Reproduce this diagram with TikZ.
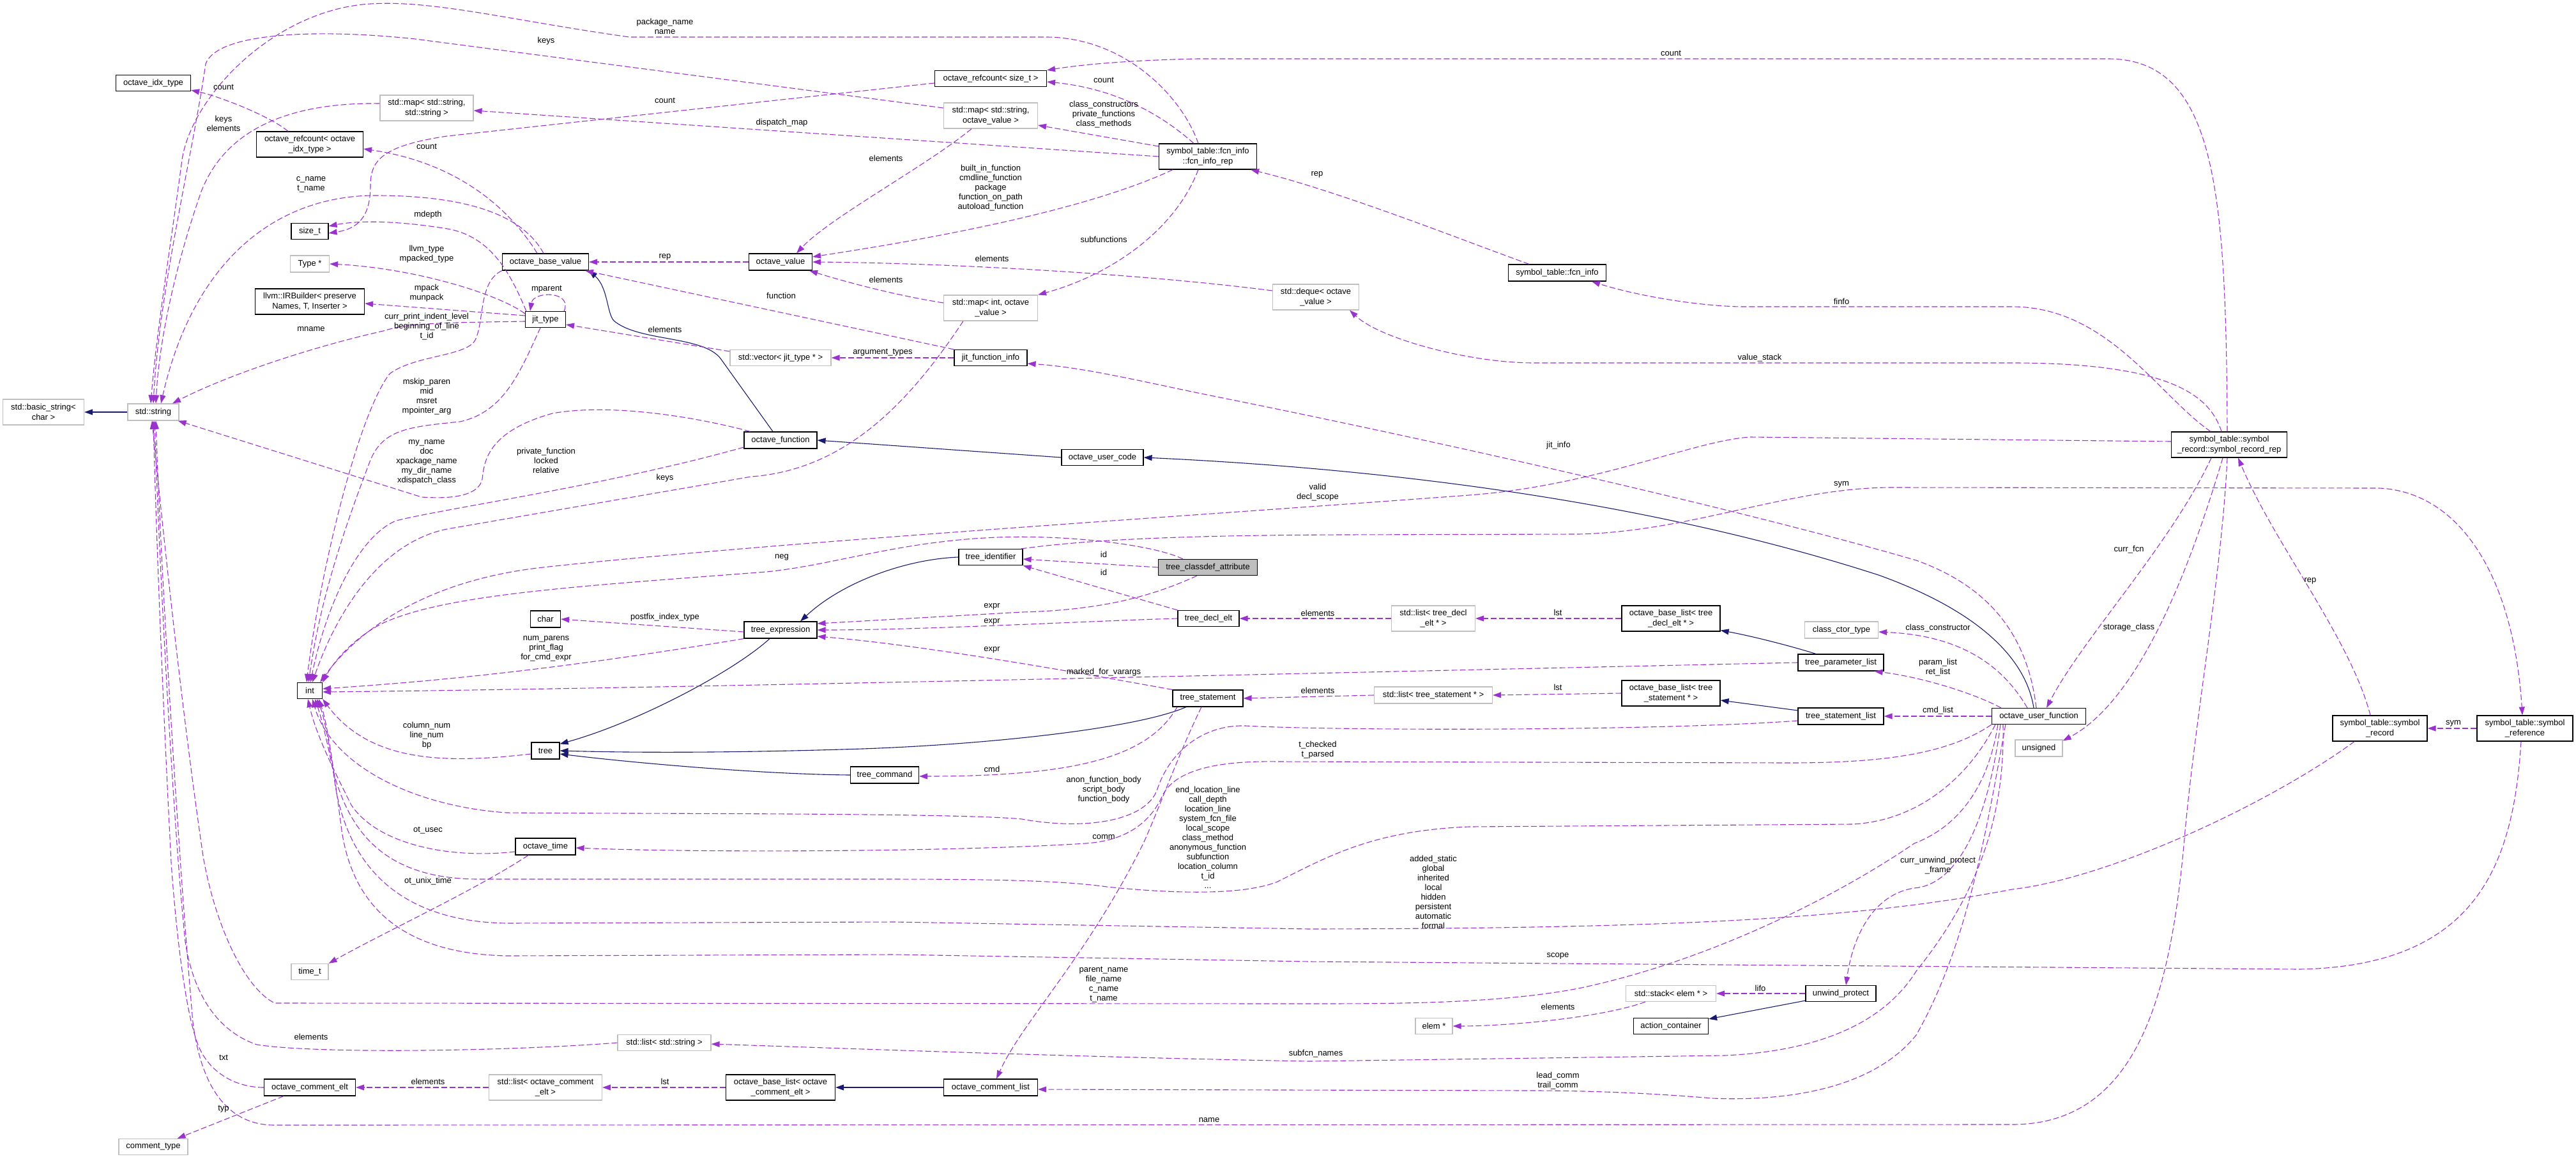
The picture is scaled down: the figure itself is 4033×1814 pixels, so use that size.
\documentclass[tikz,border=0pt]{standalone}
\usepackage{fontspec}
\setmainfont{Liberation Sans}
\usepackage{tikz}
\usetikzlibrary{arrows.meta}
\definecolor{UsePurple}{HTML}{9A32CD}
\definecolor{InhBlue}{HTML}{191970}
\definecolor{ExtGray}{HTML}{BFBFBF}
\tikzset{
  sz/.style 2 args={minimum width=#1pt, minimum height=#2pt},
  cls/.style={rectangle, line width=1.2pt, inner sep=1pt, align=center, font=\fontsize{13}{16}\selectfont},
  docbox/.style={cls, draw=black, fill=white},
  extbox/.style={cls, draw=ExtGray, fill=white},
  focusbox/.style={cls, draw=black, fill=ExtGray},
  usearr/.style={draw=UsePurple, line width=1.1pt, dash pattern=on 9pt off 4pt, -{Triangle[length=13pt,width=9pt]}},
  inharr/.style={draw=InhBlue, line width=1.1pt, -{Triangle[length=13pt,width=9pt]}},
  elabel/.style={font=\fontsize{13}{15}\selectfont, align=center, inner sep=0pt},
}

\begin{document}
\begin{tikzpicture}[x=1pt, y=-1pt]
  \useasboundingbox (0,0) rectangle (4033,1814);
  % classes
  \node[docbox, sz={117}{25}] (idxtype) at (240,130) {octave\_idx\_type};
  \node[docbox, sz={167}{40}] (rcidx) at (485,226) {octave\_refcount< octave\\\_idx\_type >};
  \node[extbox, sz={146}{40}] (mapss) at (668,169) {std::map< std::string,\\std::string >};
  \node[docbox, sz={58}{25}] (sizet) at (485,362) {size\_t};
  \node[extbox, sz={61}{26}] (typeptr) at (485,413) {Type *};
  \node[docbox, sz={171}{40}] (irb) at (485,472) {llvm::IRBuilder< preserve\\Names, T, Inserter >};
  \node[extbox, sz={80}{26}] (stdstr) at (240,645) {std::string};
  \node[extbox, sz={127}{40}] (bstr) at (68,645) {std::basic\_string<\\char >};
  \node[docbox, sz={39}{25}] (int) at (485,1081) {int};
  \node[extbox, sz={58}{25}] (timet) at (485,1521) {time\_t};
  \node[docbox, sz={143}{26}] (celt) at (485,1702) {octave\_comment\_elt};
  \node[extbox, sz={108}{25}] (ctype) at (240,1795) {comment\_type};
  \node[docbox, sz={135}{26}] (obv) at (854,410) {octave\_base\_value};
  \node[docbox, sz={99}{26}] (ov) at (1222,410) {octave\_value};
  \node[docbox, sz={63}{25}] (jit) at (854,500) {jit\_type};
  \node[extbox, sz={158}{25}] (vecjit) at (1222,560) {std::vector< jit\_type * >};
  \node[docbox, sz={114}{26}] (ofcn) at (1222,689) {octave\_function};
  \node[docbox, sz={47}{26}] (chr) at (854,969) {char};
  \node[docbox, sz={114}{26}] (texpr) at (1222,986) {tree\_expression};
  \node[docbox, sz={44}{26}] (tree) at (854,1175) {tree};
  \node[docbox, sz={107}{26}] (tcmd) at (1385,1213) {tree\_command};
  \node[docbox, sz={94}{26}] (otime) at (854,1325) {octave\_time};
  \node[extbox, sz={146}{25}] (liststr) at (1040,1632) {std::list< std::string >};
  \node[extbox, sz={177}{40}] (listcelt) at (854,1702) {std::list< octave\_comment\\\_elt >};
  \node[docbox, sz={171}{40}] (oblcelt) at (1222,1702) {octave\_base\_list< octave\\\_comment\_elt >};
  \node[docbox, sz={175}{25}] (rcsize) at (1551,123) {octave\_refcount< size\_t >};
  \node[extbox, sz={147}{40}] (mapsov) at (1551,181) {std::map< std::string,\\octave\_value >};
  \node[docbox, sz={153}{40}] (fcnrep) at (1891,245) {symbol\_table::fcn\_info\\::fcn\_info\_rep};
  \node[extbox, sz={147}{40}] (mapiov) at (1551,482) {std::map< int, octave\\\_value >};
  \node[docbox, sz={114}{25}] (jitfi) at (1551,560) {jit\_function\_info};
  \node[extbox, sz={135}{40}] (deque) at (2060,465) {std::deque< octave\\\_value >};
  \node[docbox, sz={128}{25}] (ucode) at (1726,716) {octave\_user\_code};
  \node[docbox, sz={100}{25}] (tid) at (1551,872) {tree\_identifier};
  \node[focusbox, sz={155}{25}] (tca) at (1891,888) {tree\_classdef\_attribute};
  \node[docbox, sz={96}{25}] (tdecl) at (1892,968) {tree\_decl\_elt};
  \node[docbox, sz={110}{26}] (tstmt) at (1891,1093) {tree\_statement};
  \node[docbox, sz={147}{26}] (clist) at (1551,1702) {octave\_comment\_list};
  \node[docbox, sz={153}{26}] (fcninfo) at (2438,427) {symbol\_table::fcn\_info};
  \node[extbox, sz={131}{40}] (listdecl) at (2244,968) {std::list< tree\_decl\\\_elt * >};
  \node[docbox, sz={154}{40}] (obldecl) at (2616,968) {octave\_base\_list< tree\\\_decl\_elt * >};
  \node[extbox, sz={115}{26}] (cctor) at (2883,986) {class\_ctor\_type};
  \node[docbox, sz={134}{26}] (tparam) at (2882,1037) {tree\_parameter\_list};
  \node[extbox, sz={185}{26}] (liststmt) at (2244,1088) {std::list< tree\_statement * >};
  \node[docbox, sz={154}{40}] (oblstmt) at (2616,1085) {octave\_base\_list< tree\\\_statement * >};
  \node[docbox, sz={134}{26}] (tsl) at (2882,1121) {tree\_statement\_list};
  \node[docbox, sz={147}{25}] (ufcn) at (3192,1121) {octave\_user\_function};
  \node[extbox, sz={141}{25}] (stack) at (2616,1555) {std::stack< elem * >};
  \node[docbox, sz={110}{25}] (unwind) at (2882,1555) {unwind\_protect};
  \node[extbox, sz={58}{25}] (elem) at (2245,1606) {elem *};
  \node[docbox, sz={117}{25}] (actc) at (2616,1606) {action\_container};
  \node[docbox, sz={181}{40}] (srrep) at (3490,696) {symbol\_table::symbol\\\_record::symbol\_record\_rep};
  \node[extbox, sz={74}{26}] (unsig) at (3192,1171) {unsigned};
  \node[docbox, sz={148}{40}] (srec) at (3726,1140) {symbol\_table::symbol\\\_record};
  \node[docbox, sz={150}{40}] (sref) at (3953,1140) {symbol\_table::symbol\\\_reference};

  % inheritance
  \draw[inharr] (stdstr.west) -- (bstr.east);
  \draw[inharr] ([xshift=-12pt]ofcn.north) -- (1128,561) .. controls (1100,525) and (1000,535) .. (961,502) .. controls (950,490) and (952,450) .. (obv.south east);
  \draw[inharr] (ucode.west) -- (ofcn.east);
  \draw[inharr] ([xshift=-8pt]ufcn.north) .. controls (3170,1020) and (3080,950) .. (2941,900) .. controls (2600,790) and (2200,735) .. (ucode.east);
  \draw[inharr] ([xshift=-17pt]texpr.south) .. controls (1150,1050) and (1000,1130) .. ([yshift=-3pt]tree.north east);
  \draw[inharr] (tid.west) .. controls (1420,875) and (1320,910) .. ([xshift=31pt]texpr.north);
  \draw[inharr] ([xshift=-34pt]tstmt.south) .. controls (1780,1140) and (1550,1165) .. (1350,1172) .. controls (1100,1180) and (950,1177) .. (tree.east);
  \draw[inharr] (tcmd.west) .. controls (1200,1212) and (1000,1195) .. ([yshift=-5pt]tree.east);
  \draw[inharr] (clist.west) -- (oblcelt.east);
  \draw[inharr] ([xshift=-39pt]tparam.north) .. controls (2800,1010) and (2740,995) .. ([yshift=2pt]obldecl.south east);
  \draw[inharr] ([yshift=9pt]tsl.west) -- ([yshift=-11pt]oblstmt.east);
  \draw[inharr] ([yshift=2pt]unwind.south west) -- ([yshift=-2pt]actc.north east);

  % usage
  \draw[usearr] ([xshift=-34pt]rcidx.north) .. controls (420,180) and (340,150) .. ([yshift=2pt]idxtype.south east);
  \draw[usearr] ([xshift=-13pt]obv.north) .. controls (800,330) and (720,255) .. ([yshift=-7pt]rcidx.east);
  \draw[usearr] ([xshift=-3pt]obv.north) .. controls (820,340) and (740,305) .. (580,306) .. controls (420,310) and (300,420) .. ([xshift=12pt]stdstr.north);
  \draw[usearr] ([yshift=7pt]mapss.west) .. controls (440,160) and (350,210) .. (315,300) .. controls (280,400) and (250,520) .. ([xshift=4pt]stdstr.north);
  \draw[usearr] ([xshift=-15pt]fcnrep.north) .. controls (1850,150) and (1760,58) .. (1637,58) -- (985,58) .. controls (800,32) and (680,0) .. (580,6) .. controls (430,15) and (300,150) .. (285,250) .. controls (265,400) and (245,520) .. ([xshift=-4pt]stdstr.north);
  \draw[usearr] ([yshift=12pt]mapsov.west) -- (650,61) .. controls (500,45) and (340,50) .. (322,100) .. controls (300,250) and (250,450) .. (stdstr.north);
  \draw[usearr] ([yshift=-3pt]jit.west) .. controls (700,505) and (640,505) .. (600,518) .. controls (480,545) and (350,590) .. ([xshift=30pt]stdstr.north);
  \draw[usearr] ([yshift=6pt]jit.west) -- ([yshift=-3pt]irb.east);
  \draw[usearr] ([yshift=-4pt]jit.north west) .. controls (780,460) and (650,420) .. (typeptr.east);
  \draw[usearr] ([xshift=2pt]jit.north west) .. controls (800,430) and (770,370) .. (700,358) .. controls (620,345) and (560,345) .. ([yshift=8pt]sizet.east);
  \draw[usearr] ([xshift=-3pt]jit.north east) .. controls (897,455) and (835,455) .. ([xshift=8pt]jit.north west);
  \draw[usearr] (obv.south west) .. controls (750,440) and (758,500) .. (745,530) .. controls (735,558) and (650,555) .. (610,585) .. controls (560,650) and (500,900) .. ([xshift=-5pt]int.north);
  \draw[usearr] ([xshift=-8pt]jit.south) .. controls (815,580) and (790,645) .. (720,660) .. controls (640,668) and (600,672) .. (580,720) .. controls (530,850) and (500,950) .. ([xshift=-2pt]int.north);
  \draw[usearr] ([xshift=10pt]ofcn.north west) .. controls (1100,655) and (960,630) .. (865,647) .. controls (765,675) and (758,720) .. (755,750) .. controls (750,772) and (720,782) .. (660,778) -- ([xshift=-2pt]stdstr.south east);
  \draw[usearr] ([yshift=-11pt]ofcn.west) .. controls (950,760) and (700,795) .. (620,815) .. controls (560,840) and (510,950) .. ([xshift=1pt]int.north);
  \draw[usearr] ([xshift=-43pt]mapiov.south) .. controls (1430,620) and (1330,735) .. (1176,746) -- (700,828) .. controls (600,848) and (530,950) .. ([xshift=4pt]int.north);
  \draw[usearr] ([xshift=-39pt]tca.north) .. controls (1800,850) and (1650,835) .. (1541,842) .. controls (1400,850) and (1300,885) .. (1200,895) .. controls (900,918) and (700,930) .. (600,975) .. controls (550,1000) and (520,1040) .. (int.north east);
  \draw[usearr] ([yshift=5pt]srrep.west) -- (2740,684) .. controls (2650,690) and (2500,760) .. (2300,775) .. controls (1800,812) and (1200,850) .. (850,888) .. controls (650,910) and (550,1000) .. ([xshift=-4pt]int.north east);
  \draw[usearr] (texpr.south west) .. controls (950,1035) and (750,1062) .. ([yshift=3pt]int.east);
  \draw[usearr] (tparam.west) .. controls (2000,1055) and (1000,1078) .. ([yshift=-2pt]int.east);
  \draw[usearr] ([yshift=-5pt]tree.west) .. controls (700,1195) and (580,1195) .. (int.south east);
  \draw[usearr] ([yshift=-7pt]tsl.west) .. controls (2600,1144) and (2100,1144) .. (1950,1136) .. controls (1880,1134) and (1830,1180) .. (1812,1235) .. controls (1795,1285) and (1700,1300) .. (1600,1282) .. controls (1500,1272) and (1000,1274) .. (793,1272) .. controls (650,1262) and (520,1200) .. ([xshift=4pt]int.south);
  \draw[usearr] ([yshift=-8pt]otime.west) .. controls (700,1345) and (590,1320) .. (550,1260) .. controls (520,1200) and (495,1150) .. ([xshift=-3pt]int.south);
  \draw[usearr] ([xshift=6pt]ufcn.south west) .. controls (3080,1220) and (3000,1285) .. (2900,1290) -- (2300,1294) .. controls (2150,1300) and (2080,1340) .. (2000,1380) .. controls (1950,1400) and (1850,1400) .. (1733,1388) .. controls (1650,1376) and (1500,1376) .. (1350,1376) -- (750,1376) .. controls (600,1376) and (545,1300) .. (520,1200) .. controls (510,1150) and (502,1120) .. ([xshift=8pt]int.south);
  \draw[usearr] ([xshift=-40pt]srec.south) .. controls (3550,1260) and (3300,1375) .. (3150,1392) .. controls (2900,1440) and (2600,1453) .. (2050,1454) -- (1400,1443) -- (793,1445) .. controls (620,1442) and (545,1350) .. (525,1230) .. controls (515,1160) and (507,1120) .. ([xshift=11pt]int.south);
  \draw[usearr] ([xshift=-6pt]sref.south) .. controls (3935,1350) and (3880,1512) .. (3600,1517) -- (2050,1505) -- (1400,1494) -- (793,1496) .. controls (610,1492) and (550,1400) .. (535,1300) .. controls (522,1200) and (512,1130) .. ([xshift=14pt]int.south);
  \draw[usearr] ([xshift=-27pt]otime.south) .. controls (750,1390) and (600,1460) .. (timet.north east);
  \draw[usearr] (ufcn.south west) .. controls (3050,1180) and (2950,1194) .. (2800,1194) -- (2000,1192) .. controls (1880,1190) and (1835,1215) .. (1820,1245) .. controls (1800,1290) and (1760,1316) .. (1700,1320) .. controls (1500,1333) and (1100,1335) .. ([yshift=-2pt]otime.east);
  \draw[usearr] ([xshift=10pt]ufcn.south west) .. controls (3110,1250) and (3050,1300) .. (2997,1320) .. controls (2850,1420) and (2650,1510) .. (2471,1547) .. controls (2350,1570) and (2200,1571) .. (2050,1571) -- (430,1570) .. controls (380,1545) and (335,1440) .. (318,1340) .. controls (290,1150) and (262,900) .. ([xshift=-2pt]stdstr.south);
  \draw[usearr] (liststr.west) .. controls (800,1645) and (500,1650) .. (402,1635) .. controls (330,1610) and (300,1540) .. (290,1474) .. controls (272,1300) and (250,900) .. ([xshift=2pt]stdstr.south);
  \draw[usearr] (celt.west) .. controls (370,1702) and (330,1680) .. (312,1640) .. controls (290,1590) and (275,1450) .. (268,1350) .. controls (255,1100) and (245,850) .. (stdstr.south);
  \draw[usearr] ([xshift=-3pt]srrep.south) .. controls (3478,900) and (3440,1100) .. (3421,1300) .. controls (3400,1550) and (3350,1760) .. (3150,1760) -- (430,1761) .. controls (355,1761) and (315,1700) .. (302,1600) .. controls (280,1350) and (252,900) .. ([xshift=4pt]stdstr.south);
  \draw[usearr] ([xshift=18pt]ufcn.south west) .. controls (3140,1300) and (3080,1420) .. (3000,1520) .. controls (2950,1600) and (2850,1645) .. (2700,1652) -- (2050,1661) .. controls (1700,1655) and (1300,1640) .. ([yshift=-2pt]liststr.east);
  \draw[usearr] ([xshift=22pt]ufcn.south west) .. controls (3110,1300) and (3080,1480) .. (3000,1620) .. controls (2920,1720) and (2750,1722) .. (2681,1719) .. controls (2600,1712) and (2500,1707) .. (2400,1707) -- ([yshift=-3pt]clist.east);
  \draw[usearr] ([xshift=14pt]ufcn.south west) .. controls (3110,1300) and (3060,1385) .. (2997,1390) .. controls (2930,1400) and (2900,1470) .. ([xshift=8pt]unwind.north);
  \draw[usearr] ([xshift=-18pt]ufcn.north) .. controls (3140,1050) and (3080,995) .. ([yshift=-3pt]cctor.east);
  \draw[usearr] ([xshift=15pt]ufcn.north west) .. controls (3090,1085) and (3010,1060) .. ([xshift=-15pt]tparam.south east);
  \draw[usearr] (ufcn.west) -- (tsl.east);
  \draw[usearr] ([xshift=-4pt]ufcn.north) .. controls (3175,1000) and (3120,920) .. (3000,877) .. controls (2700,790) and (2200,680) .. (1900,620) .. controls (1800,600) and (1700,575) .. ([yshift=-9pt]jitfi.east);
  \draw[usearr] ([xshift=-28pt]srrep.south) .. controls (3400,850) and (3260,1000) .. ([xshift=12pt]ufcn.north);
  \draw[usearr] ([xshift=-10pt]srrep.south) .. controls (3440,850) and (3360,1090) .. ([yshift=-2pt]unsig.north east);
  \draw[usearr] ([xshift=-15pt]srec.north) .. controls (3680,1000) and (3560,850) .. ([xshift=14pt]srrep.south);
  \draw[usearr] (sref.west) -- (srec.east);
  \draw[usearr] ([xshift=-3pt]tid.north east) .. controls (1680,848) and (1800,838) .. (2100,837) -- (2471,836) .. controls (2650,832) and (2800,763) .. (2962,763) -- (3725,764) .. controls (3850,770) and (3935,900) .. ([xshift=-4pt]sref.north);
  \draw[usearr] (tca.west) -- ([yshift=-3pt]tid.east);
  \draw[usearr] (tdecl.north west) -- (tid.south east);
  \draw[usearr] ([xshift=-17pt]tca.south) .. controls (1800,935) and (1720,955) .. (1600,958) -- ([yshift=10pt]texpr.east);
  \draw[usearr] (tdecl.west) .. controls (1700,972) and (1450,986) .. (texpr.east);
  \draw[usearr] (tstmt.north west) .. controls (1700,1055) and (1450,1010) .. ([yshift=-10pt]texpr.east);
  \draw[usearr] (listdecl.west) -- (tdecl.east);
  \draw[usearr] (obldecl.west) -- (listdecl.east);
  \draw[usearr] (liststmt.west) -- (tstmt.east);
  \draw[usearr] (oblstmt.west) -- (liststmt.east);
  \draw[usearr] ([xshift=-48pt]tstmt.south) .. controls (1800,1180) and (1700,1215) .. ([yshift=-2pt]tcmd.east);
  \draw[usearr] ([xshift=-10pt]tstmt.south) .. controls (1845,1180) and (1815,1265) .. (1790,1320) .. controls (1700,1500) and (1600,1600) .. ([xshift=9pt]clist.north);
  \draw[usearr] ([xshift=-41pt]celt.south) -- ([xshift=-17pt]ctype.north east);
  \draw[usearr] (listcelt.west) -- (celt.east);
  \draw[usearr] (oblcelt.west) -- (listcelt.east);
  \draw[usearr] ([xshift=-40pt]stack.south) .. controls (2500,1595) and (2350,1606) .. (elem.east);
  \draw[usearr] (unwind.west) -- (stack.east);
  \draw[usearr] ([yshift=-3pt]texpr.west) -- (chr.east);
  \draw[usearr] (ov.west) -- (obv.east);
  \draw[usearr] (jitfi.north west) -- ([xshift=-6pt]obv.south east);
  \draw[usearr] (jitfi.west) -- (vecjit.east);
  \draw[usearr] ([yshift=10pt]vecjit.west) -- ([yshift=-8pt]jit.east);
  \draw[usearr] ([xshift=-30pt]mapsov.south) .. controls (1450,260) and (1300,340) .. ([xshift=25pt]ov.north);
  \draw[usearr] ([xshift=-55pt]fcnrep.south) .. controls (1700,330) and (1450,375) .. ([yshift=8pt]ov.east);
  \draw[usearr] ([yshift=10pt]deque.west) .. controls (1800,430) and (1500,412) .. (ov.east);
  \draw[usearr] ([yshift=8pt]mapiov.west) .. controls (1400,462) and (1320,440) .. ([xshift=-5pt]ov.south east);
  \draw[usearr] ([xshift=-15pt]fcnrep.south) .. controls (1840,360) and (1740,430) .. (mapiov.north east);
  \draw[usearr] ([yshift=16pt]fcnrep.west) -- ([yshift=-15pt]mapsov.east);
  \draw[usearr] ([xshift=-22pt]fcnrep.north) .. controls (1830,190) and (1760,140) .. ([yshift=-5pt]rcsize.east);
  \draw[usearr] (fcnrep.west) -- ([yshift=-4pt]mapss.east);
  \draw[usearr] ([xshift=-44pt]fcninfo.north) .. controls (2300,380) and (2100,300) .. ([xshift=-10pt]fcnrep.south east);
  \draw[usearr] ([xshift=-29pt]srrep.north) .. controls (3380,620) and (3300,480) .. (3150,480) -- (2723,480) .. controls (2650,478) and (2560,462) .. ([xshift=54pt]fcninfo.south);
  \draw[usearr] ([xshift=-12pt]srrep.north) .. controls (3460,620) and (3400,568) .. (3150,568) -- (2401,568) .. controls (2300,568) and (2160,530) .. ([xshift=-15pt]deque.south east);
  \draw[usearr] ([xshift=-3pt]srrep.north) .. controls (3485,300) and (3470,92) .. (3300,92) -- (1876,92) .. controls (1780,94) and (1700,100) .. (rcsize.north east);
  \draw[usearr] ([yshift=-7pt]rcsize.west) -- (700,213) .. controls (600,228) and (580,250) .. (580,290) .. controls (580,340) and (560,358) .. ([yshift=-3pt]sizet.east);

  % edge labels
  \foreach [count=\i] \lx/\ly/\txt in {
    350/136/count, 350/193/{keys\\elements}, 487/289/{c\_name\\t\_name}, 668/229/count,
    1041/157/count, 1041/41/{package\_name\\name}, 855/64/keys, 1224/192/dispatch\_map,
    670/336/mdepth, 668/398/{llvm\_type\\mpacked\_type}, 668/459/{mpack\\munpack},
    668/511/{curr\_print\_indent\_level\\beginning\_of\_line\\t\_id}, 487/515/mname,
    668/621/{mskip\_paren\\mid\\msret\\mpointer\_arg},
    668/723/{my\_name\\doc\\xpackage\_name\\my\_dir\_name\\xdispatch\_class},
    855/721/{private\_function\\locked\\relative}, 1041/748/keys, 1224/872/neg,
    1041/966/postfix\_index\_type, 855/1015/{num\_parens\\print\_flag\\for\_cmd\_expr},
    668/1151/{column\_num\\line\_num\\bp}, 670/1300/ot\_usec, 670/1379/ot\_unix\_time,
    487/1623/elements, 350/1655/txt, 350/1736/typ, 670/1693/elements, 1041/1693/lst,
    856/453/mparent, 1041/402/rep, 1223/463/function, 1041/516/elements,
    1382/552/argument\_types, 1387/248/elements,
    1551/294/{built\_in\_function\\cmdline\_function\\package\\function\_on\_path\\autoload\_function},
    1553/405/elements, 1387/438/elements, 1728/375/subfunctions,
    1728/179/{class\_constructors\\private\_functions\\class\_methods}, 1728/125/count,
    2062/273/rep, 1728/868/id, 1728/896/id, 1553/949/expr, 1553/973/expr, 1553/1017/expr,
    2063/771/{valid\\decl\_scope}, 2063/960/elements, 2439/959/lst, 2063/1081/elements,
    2439/1076/lst, 1728/1052/marked\_for\_varargs, 1553/1204/cmd,
    1728/1236/{anon\_function\_body\\script\_body\\function\_body},
    2063/1174/{t\_checked\\t\_parsed}, 1728/1310/comm,
    1891/1311/{end\_location\_line\\call\_depth\\location\_line\\system\_fcn\_file\\local\_scope\\class\_method\\anonymous\_function\\subfunction\\location\_column\\t\_id\\...},
    1728/1541/{parent\_name\\file\_name\\c\_name\\t\_name},
    2244/1396/{added\_static\\global\\inherited\\local\\hidden\\persistent\\automatic\\formal},
    2439/1496/scope, 2060/1649/subfcn\_names, 2439/1692/{lead\_comm\\trail\_comm},
    1893/1753/name, 2439/1576/elements, 2756/1547/lifo,
    3034/1355/{curr\_unwind\_protect\\\_frame}, 3034/983/class\_constructor,
    3034/1045/{param\_list\\ret\_list}, 3034/1112/cmd\_list, 2440/697/jit\_info,
    2883/758/sym, 2616/83/count, 2883/472/finfo, 2755/560/value\_stack,
    3333/860/curr\_fcn, 3333/982/storage\_class, 3617/909/rep, 3841/1132/sym}
    \node[elabel] (lab\i) at (\lx,\ly) {\txt};
\end{tikzpicture}
\end{document}
